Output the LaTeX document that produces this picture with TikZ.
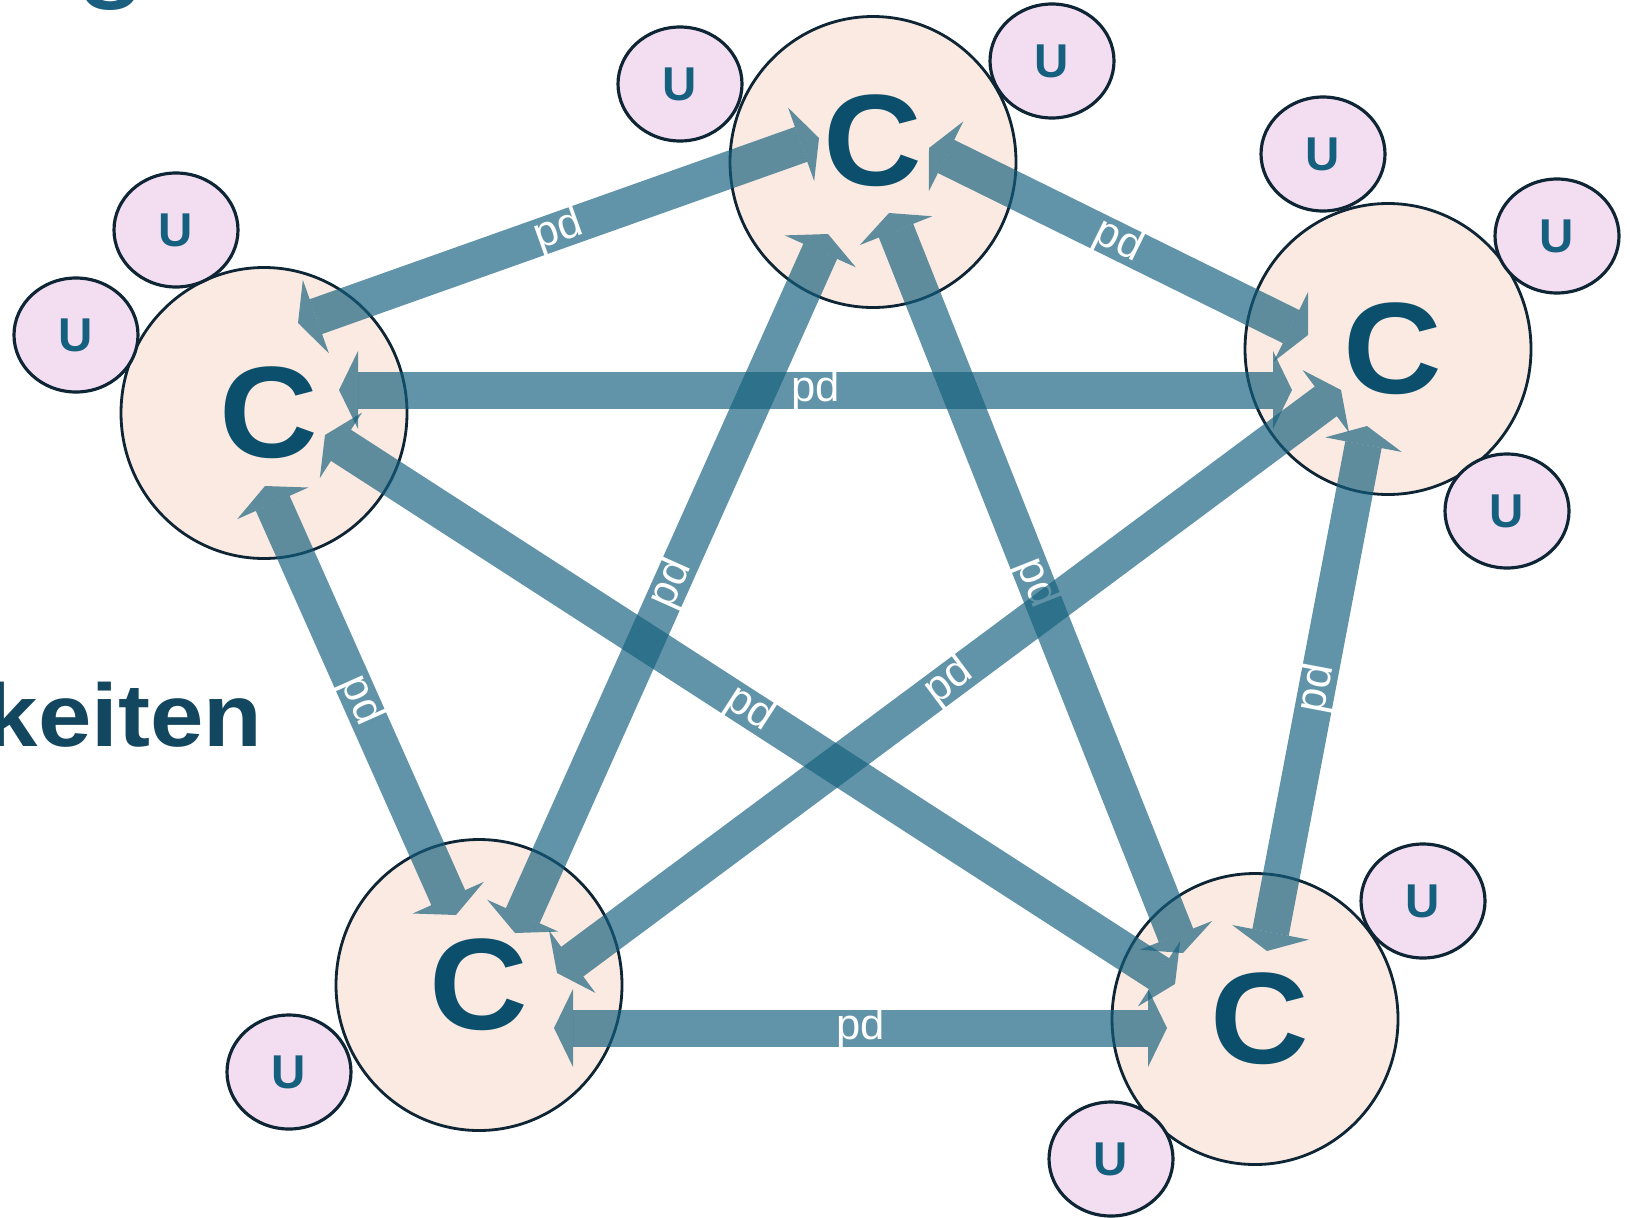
\documentclass[tikz,border=0pt]{standalone}
\usepackage{fontspec}
\setmainfont{Liberation Sans}
\usetikzlibrary{arrows.meta, shapes.geometric}
\definecolor{pdblue}{HTML}{135F7D}
\definecolor{cfill}{HTML}{FBEAE1}
\definecolor{ufill}{HTML}{F3DDF1}
\definecolor{rim}{HTML}{0D2535}
\definecolor{ctext}{HTML}{0B4F6C}
\definecolor{utext}{HTML}{16607F}
\definecolor{headline}{HTML}{13465F}
\definecolor{gtext}{HTML}{1A5F80}

\begin{document}
\begin{tikzpicture}[
    x=0.1mm,y=-0.1mm,
    cnode/.style={ellipse, draw=rim, line width=0.8pt, fill=cfill, minimum width=28.6mm, minimum height=29.1mm, inner sep=0pt, text=ctext, font=\fontsize{37}{40}\selectfont\bfseries},
    unode/.style={ellipse, draw=rim, line width=0.9pt, fill=ufill, minimum width=12.4mm, minimum height=11.4mm, inner sep=0pt, text=utext, font=\fontsize{13.5}{15}\selectfont\bfseries},
    pd/.style={line width=3.7mm, draw=pdblue, opacity=0.67, {Triangle[length=1.9mm, width=7.8mm, line width=0pt]}-{Triangle[length=1.9mm, width=7.8mm, line width=0pt]}},
    lbl/.style={sloped, text=white, text opacity=1, inner sep=0pt, font=\fontsize{12.4}{14}\selectfont}
    ]
    \useasboundingbox (0,0) rectangle (1630,1217);
    \node[cnode, text depth=4.4mm] (T) at (873,162) {\scalebox{1.05}[1]{C}};
    \node[cnode] (L) at (264,413) {\kern1mm\scalebox{1.05}[1]{C}};
    \node[cnode] (R) at (1388,349) {\kern1mm\scalebox{1.05}[1]{C}};
    \node[cnode] (BL) at (479,985) {\scalebox{1.05}[1]{C}};
    \node[cnode] (BR) at (1255,1019) {\kern1mm\scalebox{1.05}[1]{C}};
    \node[unode] (u1) at (680,84) {U};
    \node[unode] (u2) at (1052,61) {U};
    \node[unode] (u3) at (1323,154) {U};
    \node[unode] (u4) at (1557,236) {U};
    \node[unode] (u5) at (1507,511) {U};
    \node[unode] (u6) at (1423,901) {U};
    \node[unode] (u7) at (1111,1159) {U};
    \node[unode] (u8) at (289,1072) {U};
    \node[unode] (u9) at (176,230) {U};
    \node[unode] (u10) at (76,335) {U};
    \draw[pd] ([shift={(34,-90)}]L.center) -- node[lbl] {pd} ([shift={(-54,-24)}]T.center);
    \draw[pd] ([shift={(56,-14)}]T.center) -- node[lbl] {pd} ([shift={(-80,-14)}]R.center);
    \draw[pd] ([shift={(75,-23)}]L.center) -- node[lbl] {pd} ([shift={(-96,41)}]R.center);
    \draw[pd] ([shift={(1,73)}]L.center) -- node[lbl] {pd} ([shift={(-23,-70)}]BL.center);
    \draw[pd] ([shift={(-45,72)}]T.center) -- node[lbl] {pd} ([shift={(36,-52)}]BL.center);
    \draw[pd] ([shift={(16,51)}]T.center) -- node[lbl] {pd} ([shift={(-72,-66)}]BR.center);
    \draw[pd] ([shift={(61,22)}]L.center) -- node[lbl] {pd} ([shift={(-80,-35)}]BR.center);
    \draw[pd] ([shift={(-47,41)}]R.center) -- node[lbl] {pd} ([shift={(78,-12)}]BL.center);
    \draw[pd] ([shift={(-21,77)}]R.center) -- node[lbl] {pd} ([shift={(12,-68)}]BR.center);
    \draw[pd] ([shift={(75,43)}]BL.center) -- node[lbl] {pd} ([shift={(-88,9)}]BR.center);
    \node[anchor=base east, inner sep=0pt, text=headline, font=\fontsize{25.3}{30}\selectfont\bfseries] (keiten) at (263,746) {\scalebox{1.08}[1]{keiten}};
    \node[anchor=base, inner sep=0pt, text=gtext, font=\fontsize{37}{40}\selectfont] (g) at (112,-16) {g};
\end{tikzpicture}
\end{document}
